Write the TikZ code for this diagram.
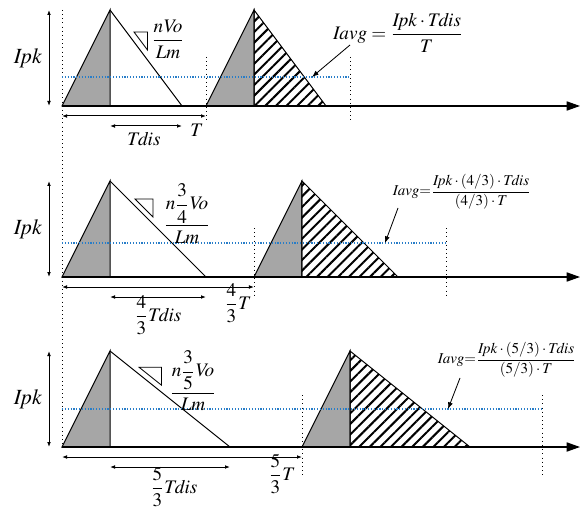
\documentclass[tikz,border=0pt]{standalone}
\usepackage{amsmath}
\usepackage{mathptmx}
\usepackage{tikz}
\usetikzlibrary{arrows.meta,patterns.meta}

\definecolor{levelblue}{RGB}{40,125,200}

\begin{document}
\begin{tikzpicture}[x=0.6pt, y=-0.6pt,
    wave/.style={draw, line width=0.6pt},
    rise/.style={wave, fill=black!35},
    hatch/.style={wave, pattern={Lines[angle=45, distance=4.5pt, line width=1.2pt]}},
    axis/.style={draw, line width=0.7pt, -{Triangle[length=8pt, width=5.5pt]}},
    dim/.style={draw, line width=0.6pt, {Latex[length=3pt]}-{Latex[length=3pt]}},
    guide/.style={draw, dotted, line width=0.5pt},
    level/.style={draw, densely dotted, line width=0.7pt, levelblue},
    pointer/.style={draw, line width=0.5pt, -{Latex[length=4pt]}},
    lbl/.style={inner sep=0pt, font=\fontsize{11.5}{13}\selectfont},
    big/.style={inner sep=0pt, font=\fontsize{13}{15}\selectfont},
    avg/.style={inner sep=0pt, font=\fontsize{11.5}{13}\selectfont},
    small/.style={inner sep=0pt, font=\fontsize{9}{11}\selectfont}]

\useasboundingbox (0,0) rectangle (581,509);

% common time origin
\draw[guide] (62,10) -- (62,447);

% three waveforms: T, 4/3 T, 5/3 T
\foreach \p/\yb/\k/\ha/\dt/\db/\sx/\so in {1/106/1/29/49/14/134/10, 2/277/1.3333/34/49/21/135/7, 3/447/1.6667/38/52/30/139/7}{
  \pgfmathsetmacro\P{144*\k}
  \pgfmathsetmacro\F{72*\k}
  \pgfmathsetmacro\sy{\yb-96+(\sx-110)*96/\F-\so}
  \coordinate (o\p) at (62,\yb);
  \coordinate (pk\p) at (110,\yb-96);
  \coordinate (m\p) at (110,\yb);
  \coordinate (e\p) at (110+\F,\yb);
  \coordinate (t\p) at (62+\P,\yb);
  \coordinate (pkb\p) at (110+\P,\yb-96);
  \coordinate (mb\p) at (110+\P,\yb);
  \coordinate (eb\p) at (110+\P+\F,\yb);
  \coordinate (ax\p) at (580,\yb);

  \draw[rise] (o\p) -- (pk\p) -- (m\p) -- cycle;
  \draw[wave] (pk\p) -- (e\p);
  \draw[rise] (t\p) -- (pkb\p) -- (mb\p) -- cycle;
  \draw[hatch] (pkb\p) -- (mb\p) -- (eb\p) -- cycle;
  \draw[axis] (o\p) -- (ax\p);

  % period marks and average level
  \draw[guide] (62+\P,\yb-\dt) -- (62+\P,\yb+\db);
  \draw[guide] (62+2*\P,\yb-\dt) -- (62+2*\P,\yb+\db);
  \draw[level] (62,\yb-\ha) -- (62+2*\P,\yb-\ha);

  % slope mark
  \draw[wave, line width=0.5pt] (\sx,\sy) -- ++(18*\F/96,0) -- ++(0,18) -- cycle;

  % dimensions
  \coordinate (ipt\p) at (49,\yb-96);
  \coordinate (ipb\p) at (49,\yb);
  \draw[dim] (ipt\p) -- (ipb\p);
  \node[big] (ipk\p) at (28,\yb-48) {$\mathit{Ipk}$};
  \coordinate (ts\p) at (62,\yb+10);
  \coordinate (te\p) at (62+\P,\yb+10);
  \draw[dim] (ts\p) -- (te\p);
  \coordinate (ds\p) at (110,\yb+20);
  \coordinate (de\p) at (110+\F,\yb+20);
  \draw[dim] (ds\p) -- (de\p);
}

% labels, first waveform
\node[lbl] (slope1) at (168,39) {$\dfrac{\mathit{nVo}}{\mathit{Lm}}$};
\node[lbl] (tdis1) at (144,139) {$\mathit{Tdis}$};
\node[lbl] (per1) at (197,130) {$T$};
\node[avg] (avg1) at (398,33) {$\mathit{Iavg}=\dfrac{\mathit{Ipk}\cdot \mathit{Tdis}}{T}$};
\coordinate (avgs1) at (350,45);
\coordinate (avge1) at (312,77);
\draw[pointer] (avgs1) -- (avge1);

% labels, second waveform
\node[lbl] (slope2) at (187,214) {$\dfrac{n\dfrac{3}{4}\mathit{Vo}}{\mathit{Lm}}$};
\node[lbl] (tdis2) at (158,315) {$\dfrac{4}{3}\mathit{Tdis}$};
\node[lbl] (per2) at (238,303) {$\dfrac{4}{3}T$};
\node[small] (avg2) at (462,192) {$\mathit{Iavg}{=}\dfrac{\mathit{Ipk}\cdot(4/3)\cdot \mathit{Tdis}}{(4/3)\cdot T}$};
\coordinate (avgs2) at (398,208);
\coordinate (avge2) at (385,243);
\draw[pointer] (avgs2) -- (avge2);

% labels, third waveform
\node[lbl] (slope3) at (193,381) {$\dfrac{n\dfrac{3}{5}\mathit{Vo}}{\mathit{Lm}}$};
\node[lbl] (tdis3) at (174,487) {$\dfrac{5}{3}\mathit{Tdis}$};
\node[lbl] (per3) at (282,474) {$\dfrac{5}{3}T$};
\node[small] (avg3) at (507,360) {$\mathit{Iavg}{=}\dfrac{\mathit{Ipk}\cdot(5/3)\cdot \mathit{Tdis}}{(5/3)\cdot T}$};
\coordinate (avgs3) at (460,378);
\coordinate (avge3) at (448,409);
\draw[pointer] (avgs3) -- (avge3);
\end{tikzpicture}
\end{document}
